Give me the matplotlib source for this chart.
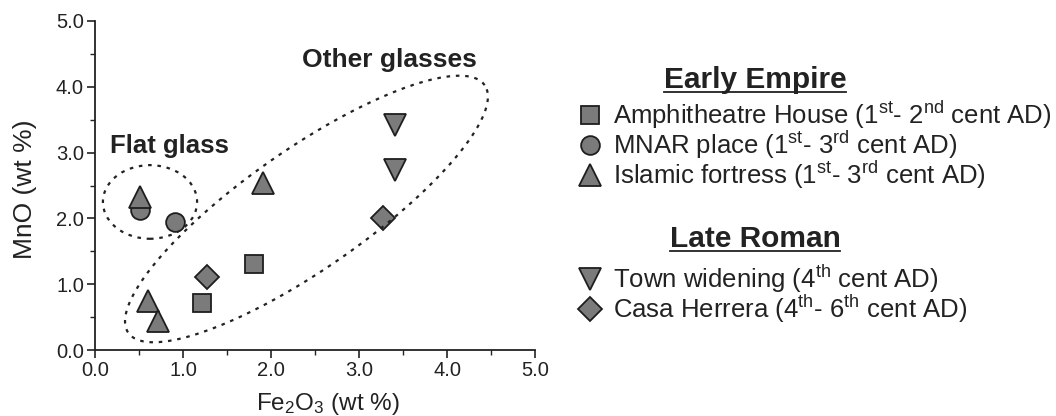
import numpy as np
import matplotlib
matplotlib.use("Agg")
import matplotlib.pyplot as plt
from matplotlib.patches import Ellipse
from matplotlib.ticker import MultipleLocator, FormatStrFormatter

plt.rcParams['font.family'] = ['Liberation Sans', 'DejaVu Sans']
plt.rcParams['mathtext.fontset'] = 'custom'
plt.rcParams['mathtext.rm'] = 'Liberation Sans'
plt.rcParams['mathtext.it'] = 'Liberation Sans'

# Fe2O3 / MnO (wt %) per site
amph_fe = [1.22, 1.81]
amph_mn = [0.71, 1.31]
mnar_fe = [0.51, 0.91]
mnar_mn = [2.13, 1.95]
islamic_fe = [0.51, 1.91, 0.60, 0.72]
islamic_mn = [2.33, 2.54, 0.74, 0.44]
town_fe = [3.41, 3.41]
town_mn = [3.42, 2.74]
casa_fe = [1.27, 3.27]
casa_mn = [1.11, 2.00]

labels = [
    r"Amphitheatre House (1$^{\rm st}$- 2$^{\rm nd}$ cent AD)",
    r"MNAR place (1$^{\rm st}$- 3$^{\rm rd}$ cent AD)",
    r"Islamic fortress (1$^{\rm st}$- 3$^{\rm rd}$ cent AD)",
    r"Town widening (4$^{\rm th}$ cent AD)",
    r"Casa Herrera (4$^{\rm th}$- 6$^{\rm th}$ cent AD)",
]

fill = '#7b7b7b'
edge = '#1e1e1e'
ink = '#222222'

W, H = 1056, 416
fig = plt.figure(figsize=(W / 100, H / 100), dpi=100)
ax = fig.add_axes([95 / W, 1 - 350 / H, 440 / W, 329 / H])
xpx, ypx = 440 / 5, 329 / 5  # pixels per data unit

style = dict(ls='none', mfc=fill, mec=edge, mew=1.3)
h_sq, = ax.plot(amph_fe, amph_mn, marker='s', ms=12.5, **style)
h_ci, = ax.plot(mnar_fe, mnar_mn, marker='o', ms=13.5, **style)
h_tr, = ax.plot(islamic_fe, islamic_mn, marker='^', ms=16, **style)
h_tw, = ax.plot(town_fe, town_mn, marker='v', ms=16, **style)
h_ca, = ax.plot(casa_fe, casa_mn, marker='D', ms=12, **style)

dots = (0, (1.6, 2.6))
# flat glass group
ax.add_patch(Ellipse((0.625, 2.25), 1.07, 1.12, fill=False, ec=ink,
                     lw=1.6, ls=dots))

# other glasses group: ellipse tilted on screen, built in pixel units
t = np.linspace(0, 2 * np.pi, 300)
a, b, th = 217, 60, np.deg2rad(34.8)
u, v = a * np.cos(t), b * np.sin(t)
px = u * np.cos(th) - v * np.sin(th)
py = u * np.sin(th) + v * np.cos(th)
ax.plot(2.403 + px / xpx, 2.143 + py / ypx, color=ink, lw=1.6, ls=dots)

ax.text(0.17, 2.99, "Flat glass", fontsize=18.5, fontweight='bold',
        va='baseline', color=ink)
ax.text(2.35, 4.30, "Other glasses", fontsize=19, fontweight='bold',
        va='baseline', color=ink)

ax.set_xlim(0, 5)
ax.set_ylim(0, 5)
ax.xaxis.set_major_locator(MultipleLocator(1))
ax.yaxis.set_major_locator(MultipleLocator(1))
ax.xaxis.set_minor_locator(MultipleLocator(0.5))
ax.yaxis.set_minor_locator(MultipleLocator(0.5))
ax.xaxis.set_major_formatter(FormatStrFormatter('%.1f'))
ax.yaxis.set_major_formatter(FormatStrFormatter('%.1f'))
ax.tick_params(which='major', direction='out', length=6, width=1.2,
               labelsize=14.5, colors=ink, pad=2)
ax.tick_params(which='minor', direction='out', length=3.5, width=1.0,
               colors=ink)
for s in ['top', 'right']:
    ax.spines[s].set_visible(False)
for s in ['left', 'bottom']:
    ax.spines[s].set_linewidth(1.3)
    ax.spines[s].set_color(ink)

ax.set_xlabel(r"Fe$_2$O$_3$ (wt %)", fontsize=17.5, color=ink, va='baseline')
ax.xaxis.set_label_coords(0.53, -60 / 329)
ax.set_ylabel("MnO (wt %)", fontsize=19, color=ink)
ax.yaxis.set_label_coords(-58 / 440, 0.49)

leg_kw = dict(loc='upper left', bbox_transform=fig.transFigure, frameon=False,
              fontsize=18.5, handlelength=1.0, handletextpad=0.4,
              borderpad=0, borderaxespad=0, labelspacing=-0.08)
leg1 = ax.legend([h_sq, h_ci, h_tr], labels[:3],
                 bbox_to_anchor=(577 / W, 1 - 99 / H), **leg_kw)
ax.add_artist(leg1)
leg2 = ax.legend([h_tw, h_ca], labels[3:],
                 bbox_to_anchor=(577 / W, 1 - 263 / H), **leg_kw)
for lg in (leg1, leg2):
    for txt in lg.get_texts():
        txt.set_color(ink)

titles = []
for y, name in [(88, "Early Empire"), (247, "Late Roman")]:
    titles.append(fig.text(755 / W, 1 - y / H, name, ha='center',
                           va='baseline', fontsize=21.5, fontweight='bold',
                           color=ink))

# underline the group titles
fig.canvas.draw()
r = fig.canvas.get_renderer()
for tt in titles:
    bb = tt.get_window_extent(r)
    y0 = tt.get_position()[1] - 3.5 / H
    fig.add_artist(plt.Line2D([bb.x0 / W, bb.x1 / W], [y0, y0],
                              transform=fig.transFigure, color=ink, lw=1.3))

fig.savefig("out.png", dpi=100)
